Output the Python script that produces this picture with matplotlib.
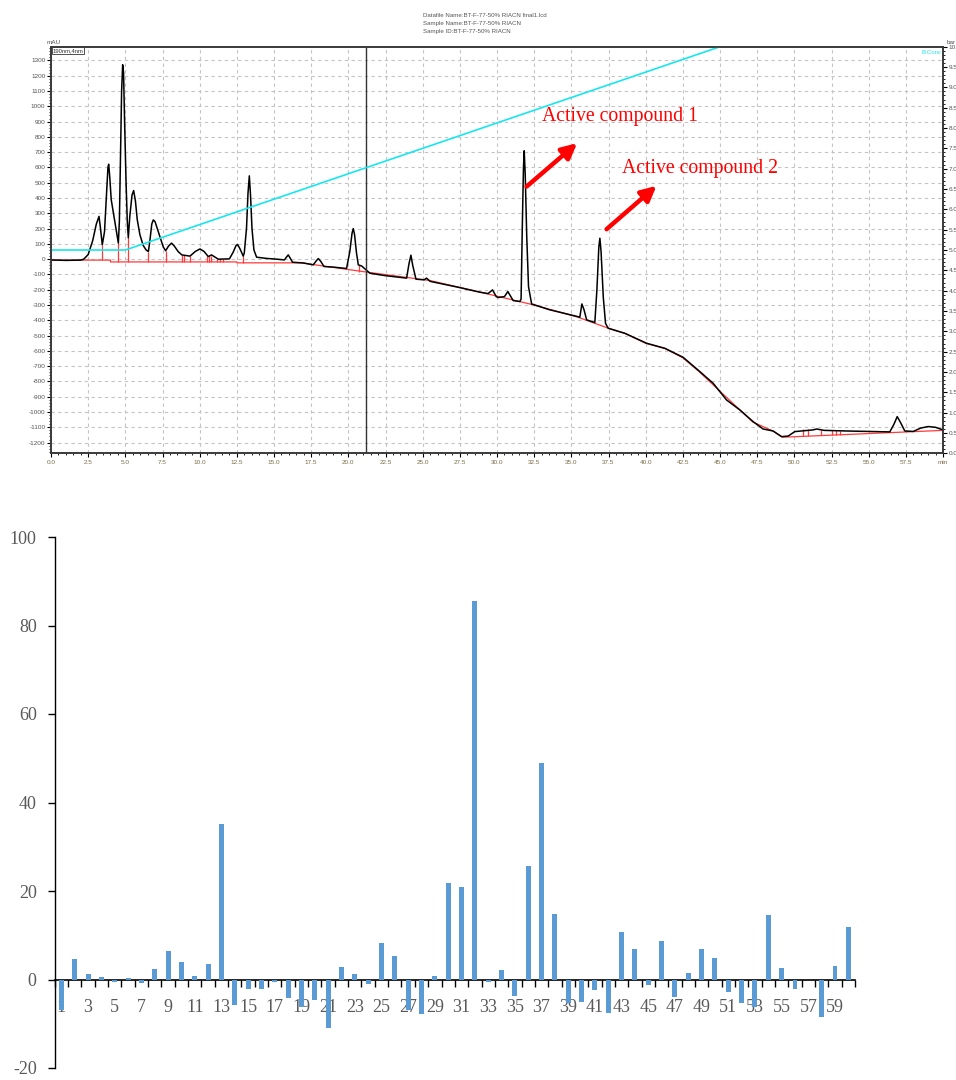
import matplotlib
matplotlib.use("Agg")
import matplotlib.pyplot as plt
from matplotlib.ticker import MultipleLocator, FixedLocator, FormatStrFormatter, NullFormatter
import numpy as np

plt.rcParams["axes.unicode_minus"] = False

# ---- chromatogram (top panel) ----
trace_time = [0.0, 1.0, 2.0, 2.2, 2.5, 2.8, 3.05, 3.23, 3.33, 3.45,
              3.6, 3.72, 3.83, 3.88, 3.95, 4.05, 4.2, 4.4, 4.53,
              4.6, 4.68, 4.75, 4.82, 4.88, 4.95, 5.05, 5.13, 5.2,
              5.3, 5.45, 5.56, 5.68, 5.8, 5.98, 6.2, 6.4, 6.55,
              6.65, 6.78, 6.88, 7.0, 7.15, 7.35, 7.55, 7.71,
              7.9, 8.11, 8.3, 8.55, 8.8, 9.35, 9.7, 10.02, 10.3, 10.58, 10.8,
              11.25, 12.0, 12.25, 12.45, 12.55, 12.7, 12.93,
              13.0, 13.15, 13.25, 13.34, 13.42, 13.52, 13.65, 13.83,
              14.5, 15.18, 15.7, 15.85, 15.96, 16.1, 16.25, 17.0, 17.64, 17.85, 17.98, 18.15, 18.36,
              19.0, 19.88, 20.1, 20.25, 20.33, 20.42, 20.55, 20.67, 20.9, 21.45, 22.5,
              23.92, 24.08, 24.21, 24.33, 24.55, 25.1, 25.26, 25.5, 27.5, 28.85,
              29.4, 29.7, 29.95, 30.08, 30.5, 30.73, 31.09, 31.54,
              31.62, 31.7, 31.78, 31.83, 31.9, 32.0, 32.12, 32.33,
              33.5, 35.4, 35.57, 35.71, 35.85, 36.03, 36.58,
              36.72, 36.85, 36.92, 37.0, 37.15, 37.3, 37.48,
              38.6, 40.06, 41.29, 42.52, 43.64, 44.54, 45.44,
              46.33, 47.23, 47.9, 48.57, 49.14, 49.59, 50.03, 51.26, 51.5, 52.0, 53.5, 56.42,
              56.7, 56.92, 57.15, 57.43, 58.0, 58.5, 59.0, 59.5, 60.0]
trace_mau = [-5, -8, -6, 0, 30, 120, 230, 280, 200, 94,
             180, 400, 600, 621, 540, 390, 300, 180, 105,
             250, 700, 1100, 1272, 1220, 900, 500, 250, 140,
             280, 420, 449, 380, 260, 160, 90, 60, 50,
             120, 230, 257, 245, 200, 140, 80, 55,
             85, 105, 85, 50, 28, 20, 50, 67, 50, 17, 28,
             0, 2, 45, 90, 96, 70, 20,
             40, 200, 430, 545, 420, 200, 60, 13,
             5, 0, -5, 15, 28, 5, -20, -25, -37, -10, 4, -15, -48,
             -52, -61, 50, 170, 200, 160, 40, -37, -45, -92, -108,
             -124, -30, 26, -40, -131, -135, -124, -145, -186, -216,
             -225, -201, -245, -251, -245, -212, -271, -277,
             -260, 200, 600, 709, 550, 150, -180, -293,
             -330, -375, -380, -293, -330, -397, -415,
             -200, 80, 137, 50, -250, -420, -452,
             -485, -550, -583, -642, -735, -812, -921,
             -986, -1063, -1111, -1124, -1161, -1157, -1128, -1117, -1111, -1120, -1124, -1130,
             -1080, -1030, -1070, -1124, -1127, -1105, -1095, -1100, -1117]

baseline_time = [0.0, 4.0, 4.0, 12.5, 12.5, 16.8, 20.9, 25.5, 29.4, 32.5, 35.4, 37.5, 38.6,
                 40.0, 41.3, 42.5, 43.6, 47.2, 48.6, 49.2, 60.0]
baseline_mau = [-6, -6, -18, -18, -24, -24, -80, -140, -228, -300, -378, -452, -485,
                -550, -585, -645, -736, -1065, -1126, -1165, -1120]

drop_time = [3.45, 4.53, 5.2, 6.55, 7.71, 8.8, 8.95, 9.35, 10.5, 10.62, 10.75, 11.15, 11.35,
             11.55, 12.93, 20.75, 50.6, 50.9, 51.8, 52.5, 52.8, 53.05]
drop_top = [94, 105, 145, 50, 55, 28, 26, 20, 20, 20, 22, 3, 2, 2, 20, -40,
            -1112, -1112, -1115, -1120, -1120, -1122]
drop_bottom = [-6, -18, -18, -18, -18, -18, -18, -18, -18, -18, -18, -18, -18, -18, -22, -82,
               -1158, -1157, -1153, -1150, -1149, -1148]

gradient_time = [0.0, 5.0, 45.0]
gradient_conc = [5.0, 5.0, 10.0]

header_lines = ["Datafile Name:BT-F-77-50% RIACN final1.lcd",
                "Sample Name:BT-F-77-50% RIACN",
                "Sample ID:BT-F-77-50% RIACN"]

# ---- bar chart (bottom panel) ----
fractions = np.arange(1, 61)
activity = [-7.0, 4.7, 1.2, 0.5, -0.5, 0.3, -0.8, 2.3, 6.4, 3.9,
            0.8, 3.5, 35.1, -5.7, -2.1, -2.1, -0.5, -4.1, -6.2, -4.6,
            -11.0, 2.8, 1.2, -1.0, 8.2, 5.3, -6.9, -7.8, 0.8, 21.8,
            20.9, 85.5, -0.5, 2.1, -3.7, 25.6, 48.9, 14.8, -5.3, -5.0,
            -2.4, -7.5, 10.7, 6.9, -1.2, 8.7, -3.9, 1.4, 6.9, 4.8,
            -2.8, -5.3, -6.3, 14.5, 2.6, -2.1, 0.0, -8.4, 3.0, 11.8]
label_fractions = np.arange(1, 61, 2)

W, H = 956, 1080


def draw_chromatogram(fig):
    ax = fig.add_axes([51 / W, 1 - 453.3 / H, 892 / W, 406.6 / H])
    sans = "Liberation Sans"

    ax.plot(baseline_time, baseline_mau, color="#ff3b3b", lw=0.9, zorder=2)
    ax.vlines(drop_time, drop_bottom, drop_top, color="#ff3b3b", lw=0.9, zorder=2)
    ax.plot(trace_time, trace_mau, color="black", lw=1.1, zorder=3)
    ax.axvline(21.2, color="#333333", lw=1.0, zorder=4)

    ax.set_xlim(0, 60)
    ax.set_ylim(-1270, 1390)
    ax.xaxis.set_minor_locator(MultipleLocator(0.5))
    ax.yaxis.set_minor_locator(MultipleLocator(20))
    xt = np.arange(0, 60, 2.5)
    ax.set_xticks(list(xt) + [60])
    ax.set_xticklabels([f"{v:.1f}" for v in xt] + ["min"])
    ax.set_yticks(np.arange(-1200, 1301, 100))
    ax.set_yticklabels([str(v) for v in range(-1200, 1301, 100)])
    ax.grid(True, which="major", color="#c4c4c4", lw=0.8, linestyle=(0, (3, 3)))
    ax.tick_params(axis="y", which="major", length=3, width=0.8, pad=1,
                   labelsize=4.6, labelcolor="#555555")
    ax.tick_params(axis="y", which="minor", length=1.5, width=0.6)
    ax.tick_params(axis="x", which="major", length=3, width=0.8, pad=2,
                   labelsize=4.6, labelcolor="#7d6c45")
    ax.tick_params(axis="x", which="minor", length=1.5, width=0.6)
    for lab in ax.get_xticklabels() + ax.get_yticklabels():
        lab.set_fontfamily(sans)
    for s in ax.spines.values():
        s.set_color("#3a3a3a")
        s.set_linewidth(1.2)

    # B.Conc axis on the right; its labels run off the page edge as in the screenshot
    ax2 = ax.twinx()
    ax2.plot(gradient_time, gradient_conc, color="#18e6ee", lw=1.2, zorder=2)
    ax2.set_ylim(0, 10)
    ax2.yaxis.set_major_locator(MultipleLocator(0.5))
    ax2.yaxis.set_minor_locator(MultipleLocator(0.1))
    ax2.yaxis.set_major_formatter(FormatStrFormatter("%.2f"))
    ax2.tick_params(axis="y", which="major", length=3, width=0.8, pad=1,
                    labelsize=4.6, labelcolor="#555555")
    ax2.tick_params(axis="y", which="minor", length=1.5, width=0.6)
    for lab in ax2.get_yticklabels():
        lab.set_fontfamily(sans)
    for s in ax2.spines.values():
        s.set_color("#3a3a3a")
        s.set_linewidth(1.2)

    ax.text(0.002, 0.997, "190nm,4nm", transform=ax.transAxes, ha="left", va="top",
            fontsize=4.2, family=sans, color="#333333",
            bbox=dict(boxstyle="square,pad=0.15", fc="white", ec="#333333", lw=0.6), zorder=6)
    ax.text(0.998, 0.993, "B.Conc", transform=ax.transAxes, ha="right", va="top",
            fontsize=4.4, family=sans, color="#18e6ee", zorder=6)
    fig.text(47 / W, 1 - 42 / H, "mAU", fontsize=4.6, family=sans, color="#555555",
             ha="left", va="center")
    fig.text(947 / W, 1 - 43 / H, "bar", fontsize=4.6, family=sans, color="#555555",
             ha="left", va="center")
    for i, line in enumerate(header_lines):
        fig.text(422.7 / W, 1 - (15.3 + 8 * i) / H, line, fontsize=4.4, family=sans,
                 color="#555555", ha="left", va="center")

    # annotations
    serif = "Liberation Serif"
    ax.text(33.0, 931, "Active compound 1", color="red", fontsize=14.2, family=serif,
            ha="left", va="center", zorder=7)
    ax.text(38.38, 594, "Active compound 2", color="red", fontsize=14.2, family=serif,
            ha="left", va="center", zorder=7)
    arrow = dict(arrowstyle="-|>,head_length=0.9,head_width=0.45", color="red", lw=3.2,
                 shrinkA=0, shrinkB=0)
    ax.annotate("", xy=(35.39, 759), xytext=(31.99, 475), arrowprops=arrow, zorder=7)
    ax.annotate("", xy=(40.73, 480), xytext=(37.37, 196), arrowprops=arrow, zorder=7)


def draw_bars(fig):
    ax = fig.add_axes([54.7 / W, 1 - 1068 / H, 800.3 / W, 531 / H])
    ax.bar(fractions, activity, width=0.37, color="#5B9BD5", zorder=3)
    ax.set_xlim(0.5, 60.5)
    ax.set_ylim(-20, 100)

    ax.spines["top"].set_visible(False)
    ax.spines["right"].set_visible(False)
    ax.spines["bottom"].set_position(("data", 0))
    ax.spines["bottom"].set_linewidth(1.2)
    ax.spines["left"].set_linewidth(1.0)

    ax.xaxis.set_major_locator(FixedLocator(np.arange(0.5, 61, 1)))
    ax.xaxis.set_major_formatter(NullFormatter())
    ax.xaxis.set_minor_locator(FixedLocator(label_fractions))
    ax.set_xticklabels([str(v) for v in label_fractions], minor=True)
    ax.tick_params(axis="x", which="major", direction="out", length=5, width=1.0)
    ax.tick_params(axis="x", which="minor", length=0, pad=14, labelsize=13,
                   labelcolor="#595959")
    ax.set_yticks(np.arange(-20, 101, 20))
    ax.tick_params(axis="y", direction="out", length=5, width=1.0, pad=8, labelsize=13,
                   labelcolor="#595959")
    for lab in ax.get_xticklabels(minor=True) + ax.get_yticklabels():
        lab.set_fontfamily("Liberation Serif")


def main():
    fig = plt.figure(figsize=(W / 100, H / 100), dpi=100)
    draw_chromatogram(fig)
    draw_bars(fig)
    fig.savefig("out.png", dpi=100)


if __name__ == "__main__":
    main()
